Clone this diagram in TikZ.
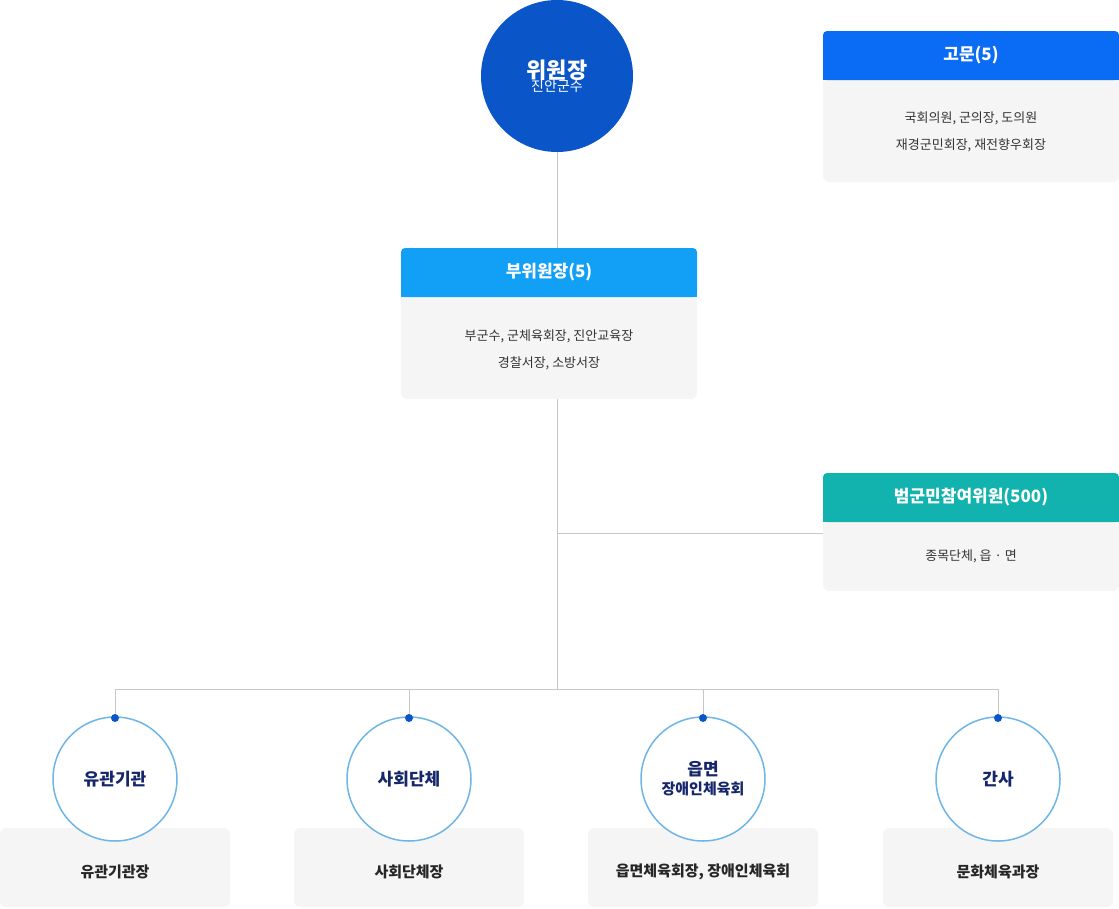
\documentclass[tikz,border=0pt]{standalone}
\usepackage{fontspec}
\setmainfont{Noto Sans CJK KR}
\usetikzlibrary{positioning}
\definecolor{chairblue}{HTML}{0A55C8}
\definecolor{advblue}{HTML}{0A6CF5}
\definecolor{vicblue}{HTML}{12A0F7}
\definecolor{teal}{HTML}{12B3AF}
\definecolor{panel}{HTML}{F5F5F5}
\definecolor{ringblue}{HTML}{6EB5E8}
\definecolor{navy}{HTML}{16266A}
\begin{document}
\begin{tikzpicture}[x=1pt,y=-1pt,
        line/.style={draw=black!22, line width=0.8pt},
        headbox/.style={minimum width=296pt, minimum height=49pt, inner sep=0pt,
            text=white, font=\bfseries\fontsize{17}{20}\selectfont},
        panelbox/.style={fill=panel, rounded corners=6pt, draw=none},
        bodytext/.style={font=\fontsize{13}{27}\selectfont, align=center, text=black!80},
        unit/.style={circle, draw=ringblue, line width=1.5pt, fill=white, minimum size=124pt,
            text=navy, font=\bfseries\fontsize{17}{22}\selectfont, align=center},
        dot/.style={circle, fill=chairblue, inner sep=0pt, minimum size=8pt},
        foot/.style={font=\bfseries\fontsize{15}{18}\selectfont, text=black!85},
    ]
    \useasboundingbox (0,0) rectangle (1119,908);
    % connectors
    \coordinate (top) at (557,152);
    \coordinate (split) at (557,533);
    \coordinate (bus) at (557,689);
    \draw[line] (top) -- (bus);
    \draw[line] (split) -- (823,533);
    \draw[line] (115,689) -- (998,689);
    \foreach \x in {115,409,703,998}
        \draw[line] (\x,689) -- (\x,718);
    % chairman
    \node[circle, fill=chairblue, minimum size=152pt, align=center, text=white]
        (chair) at (557,76) {{\bfseries\fontsize{22}{30}\selectfont 위원장}\\[-2pt]{\fontsize{14}{18}\selectfont 진안군수}};
    % advisers
    \fill[panelbox] (823,60) rectangle (1119,182);
    \fill[advblue, rounded corners=4pt] (823,31) rectangle (1119,80);
    \fill[advblue] (823,60) rectangle (1119,80);
    \node[headbox] (adv) at (971,55.5) {고문(5)};
    \node[bodytext] (advtext) at (971,132) {국회의원, 군의장, 도의원\\재경군민회장, 재전향우회장};
    % vice chairmen
    \fill[panelbox] (401,277) rectangle (697,399);
    \fill[vicblue, rounded corners=4pt] (401,248) rectangle (697,297);
    \fill[vicblue] (401,277) rectangle (697,297);
    \node[headbox] (vice) at (549,272.5) {부위원장(5)};
    \node[bodytext] (vicetext) at (549,349.5) {부군수, 군체육회장, 진안교육장\\경찰서장, 소방서장};
    % citizens committee
    \fill[panelbox] (823,502) rectangle (1119,591);
    \fill[teal, rounded corners=4pt] (823,473) rectangle (1119,522);
    \fill[teal] (823,502) rectangle (1119,522);
    \node[headbox] (civic) at (971,497.5) {범군민참여위원(500)};
    \node[bodytext] (civictext) at (971,556) {종목단체, 읍 · 면};
    % units
    \foreach \x/\name/\label/\footer in {
        115/org/유관기관/유관기관장,
        409/soc/사회단체/사회단체장,
        703/town/{읍면\\[-3pt]{\fontsize{15}{18}\selectfont 장애인체육회}}/{읍면체육회장, 장애인체육회},
        998/sec/간사/문화체육과장}{
        \fill[panelbox] (\x-115,828) rectangle (\x+115,907);
        \node[unit] (\name) at (\x,779) {\label};
        \node[dot] at (\x,718) {};
        \node[foot] (\name foot) at (\x,872) {\footer};
    }
\end{tikzpicture}
\end{document}
